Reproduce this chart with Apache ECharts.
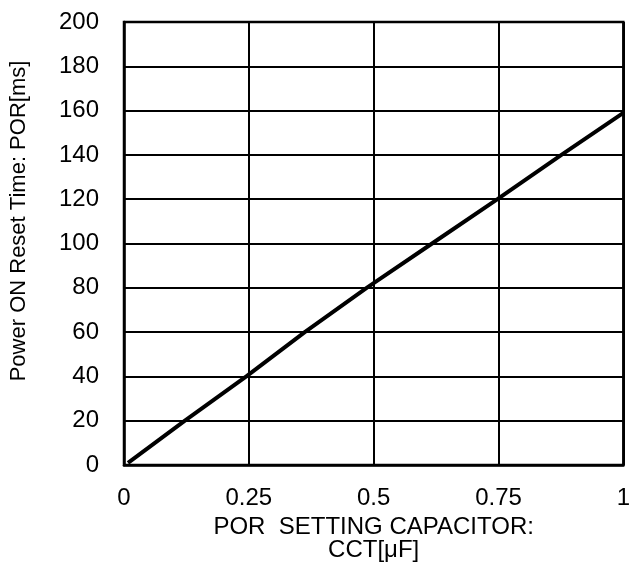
<!DOCTYPE html>
<html>
<head>
<meta charset="utf-8">
<script src="https://cdn.jsdelivr.net/npm/echarts@6/dist/echarts.min.js"></script>
<style>
html,body{margin:0;padding:0;background:#fff;}
#chart{width:633px;height:577px;}
</style>
</head>
<body>
<div id="chart"></div>
<script>
var capacitance = [0.008, 0.122, 0.245, 0.362, 0.486, 0.617, 0.748, 0.876, 1.0];
var porTime = [1, 20, 40, 60, 80, 100, 120, 140, 159];
var xTicks = [0, 0.25, 0.5, 0.75, 1];
var yTicks = [0, 20, 40, 60, 80, 100, 120, 140, 160, 180, 200];
var xName = 'POR  SETTING CAPACITOR:\nCCT[μF]';
var yName = 'Power ON Reset Time: POR[ms]';

var font = '"Liberation Sans", Arial, sans-serif';
var points = capacitance.map(function (c, i) { return [c, porTime[i]]; });

var chart = echarts.init(document.getElementById('chart'), null, {renderer: 'canvas'});
chart.setOption({
  animation: false,
  backgroundColor: '#ffffff',
  grid: {left: 123, right: 4, top: 22, bottom: 112, containLabel: false,
         show: true, borderColor: '#000', borderWidth: 2.5},
  xAxis: {
    type: 'value', min: xTicks[0], max: xTicks[xTicks.length - 1], interval: 0.25,
    name: xName, nameLocation: 'middle', nameGap: 47,
    nameTextStyle: {color: '#000', fontFamily: font, fontSize: 24, lineHeight: 23},
    axisLine: {show: true, lineStyle: {color: '#000', width: 2.5}},
    axisTick: {show: false},
    splitLine: {show: true, lineStyle: {color: '#000', width: 2}},
    axisLabel: {color: '#000', fontFamily: font, fontSize: 24, margin: 21,
      formatter: function (v) { return String(v); }}
  },
  yAxis: {
    type: 'value', min: yTicks[0], max: yTicks[yTicks.length - 1], interval: 20,
    name: yName, nameLocation: 'middle', nameGap: 94, nameRotate: 90,
    nameTextStyle: {color: '#000', fontFamily: font, fontSize: 22, padding: [0, 0, 0, 45]},
    axisLine: {show: true, lineStyle: {color: '#000', width: 2.5}},
    axisTick: {show: false},
    splitLine: {show: true, lineStyle: {color: '#000', width: 2}},
    axisLabel: {color: '#000', fontFamily: font, fontSize: 24, margin: 25}
  },
  series: [{
    type: 'line', data: points, showSymbol: false, smooth: false,
    lineStyle: {color: '#000', width: 4}, clip: true
  }]
});
</script>
</body>
</html>
